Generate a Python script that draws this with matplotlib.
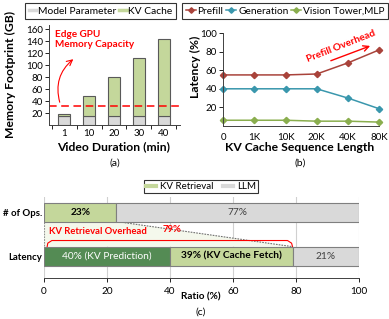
import matplotlib
matplotlib.use("Agg")
import matplotlib.pyplot as plt
from matplotlib.patches import Polygon
from matplotlib.lines import Line2D
import numpy as np

plt.rcParams["font.family"] = ["Lato", "DejaVu Sans"]

# (a) memory footprint
durations = ["1", "10", "20", "30", "40"]
model_param = [15, 15, 15, 15, 15]
kv_cache = [3, 33, 65, 97, 129]
gpu_capacity = 32

# (b) latency breakdown
seq_lens = ["0", "1K", "10K", "20K", "40K", "80K"]
prefill = [55, 55, 55, 56, 68, 82]
generation = [40, 40, 40, 40, 30, 18.5]
vision = [6, 6, 6, 5, 5, 4]

# (c) ratio
ops_kv, ops_llm = 23, 77
lat_pred, lat_fetch, lat_llm = 40, 39, 21

W, H = 389, 319
fig = plt.figure(figsize=(W / 100, H / 100), dpi=100)


def box(l, t, r, b):
    return [l / W, 1 - b / H, (r - l) / W, (b - t) / H]


def fpos(x, y):
    return x / W, 1 - y / H


GREY = "#d9d9d9"
LGREEN = "#c4d79b"
DGREEN = "#548b54"
FS = 7.0
LFS = 8.7

# ---------------- (a)
ax = fig.add_axes(box(49.3, 25, 180, 125.3))
x = np.arange(len(durations))
ax.bar(x, model_param, 0.48, color=GREY, edgecolor="#595959", lw=0.8)
ax.bar(x, kv_cache, 0.48, bottom=model_param, color=LGREEN, edgecolor="#595959", lw=0.8)
ax.axhline(gpu_capacity, color="red", ls=(0, (5, 3)), lw=1.1)
ax.set_xlim(-0.6, 4.65)
ax.set_ylim(0, 167)
ax.set_yticks(range(20, 161, 20))
ax.set_xticks(x)
ax.set_xticklabels(durations)
ax.set_xticks(np.arange(-0.5, 4.6, 1), minor=True)
ax.tick_params(axis="x", which="major", length=0, labelsize=FS, pad=3)
ax.tick_params(axis="x", which="minor", length=3, width=0.6)
ax.tick_params(axis="y", length=3, width=0.6, labelsize=FS, pad=1.5)
for s in ["top", "right"]:
    ax.spines[s].set_visible(False)
for s in ["left", "bottom"]:
    ax.spines[s].set_linewidth(0.7)
    ax.spines[s].set_color("#404040")
ax.text(-0.36, 158, "Edge GPU\nMemory Capacity", color="red", fontsize=7.2,
        fontweight="bold", va="top", ha="left", linespacing=1.1)
ax.annotate("", xy=(0.45, 113), xytext=(-0.15, 34),
            arrowprops=dict(arrowstyle="->", color="red", lw=0.8,
                            connectionstyle="arc3,rad=-0.35"))

fig.text(*fpos(114, 147), "Video Duration (min)", ha="center", va="center",
         fontsize=LFS, fontweight="bold")
fig.text(*fpos(10, 74), "Memory Footprint (GB)", ha="center", va="center",
         fontsize=LFS, fontweight="bold", rotation=90)
fig.text(*fpos(115, 163), "(a)", ha="center", va="center", fontsize=7.5)

leg_kw = dict(frameon=True, fancybox=False, edgecolor="black", borderaxespad=0,
              borderpad=0.35, handletextpad=0.15, columnspacing=0.3)
fig.legend(handles=[Line2D([], [], color=GREY, lw=2.5),
                    Line2D([], [], color=LGREEN, lw=2.5)],
           labels=["Model Parameter", "KV Cache"],
           loc="center left", bbox_to_anchor=fpos(25, 11.3), ncol=2, fontsize=7.35,
           handlelength=0.75, **leg_kw).get_frame().set_linewidth(0.8)

# ---------------- (b)
bx = fig.add_axes(box(223.3, 33.3, 379, 125.8))
xb = np.arange(len(seq_lens))
c_pre, c_gen, c_vis = "#a9433b", "#3a97ad", "#8aae4e"
for vals, c, lab in [(prefill, c_pre, "Prefill"), (generation, c_gen, "Generation"),
                     (vision, c_vis, "Vision Tower,MLP")]:
    bx.plot(xb, vals, color=c, lw=1.1, marker="D", ms=3.2, label=lab, clip_on=False)
bx.set_xlim(0, 5)
bx.set_ylim(0, 100)
bx.set_yticks(range(20, 101, 20))
bx.set_xticks(xb)
bx.set_xticklabels(seq_lens)
bx.tick_params(axis="x", length=0, labelsize=FS, pad=5)
bx.tick_params(axis="y", length=3, width=0.6, labelsize=FS, pad=1.5)
for s in ["top", "right"]:
    bx.spines[s].set_visible(False)
for s in ["left", "bottom"]:
    bx.spines[s].set_linewidth(0.7)
    bx.spines[s].set_color("#404040")
bx.text(3.78, 86.3, "Prefill Overhead", color="red", fontsize=7.2, fontweight="bold",
        rotation=21.5, ha="center", va="center")
bx.annotate("", xy=(4.8, 87.4), xytext=(3.37, 69.3),
            arrowprops=dict(arrowstyle="->", color="red", lw=1.0))

fig.text(*fpos(300, 147), "KV Cache Sequence Length", ha="center", va="center",
         fontsize=LFS, fontweight="bold")
fig.text(*fpos(195, 67), "Latency (%)", ha="center", va="center",
         fontsize=LFS, fontweight="bold", rotation=90)
fig.text(*fpos(300, 163), "(b)", ha="center", va="center", fontsize=7.5)

h = [Line2D([], [], color=c, lw=1.1, marker="D", ms=2.8) for c in (c_pre, c_gen, c_vis)]
fig.legend(handles=h, labels=["Prefill", "Generation", "Vision Tower,MLP"],
           loc="center right", bbox_to_anchor=fpos(388, 11.3), ncol=3, fontsize=7.25,
           handlelength=1.0, **leg_kw).get_frame().set_linewidth(0.8)

# ---------------- (c)
cx = fig.add_axes(box(44, 197, 359, 278.3))
bh = 0.43
cx.set_xlim(0, 100)
cx.set_ylim(-0.5, 1.34)
cx.grid(axis="x", color="#d0d0d0", lw=0.8)
cx.set_axisbelow(True)

top_lat = bh / 2
bot_ops = 1 - bh / 2
cx.add_patch(Polygon([(0, bot_ops), (ops_kv, bot_ops), (lat_pred + lat_fetch, top_lat),
                      (0, top_lat)], closed=True, facecolor="#f4f8ec", edgecolor="none",
                     zorder=1.5))
cx.plot([ops_kv, lat_pred + lat_fetch], [bot_ops, top_lat], color="#707070", lw=0.8,
        ls=(0, (1.5, 1)), zorder=2)
cx.plot([0, 0], [bot_ops, top_lat], color="#909090", lw=0.8, ls=(0, (1.5, 1)), zorder=2)

ec = "#7f7f7f"
cx.barh(1, ops_kv, bh, color=LGREEN, edgecolor=ec, lw=0.8, zorder=3)
cx.barh(1, ops_llm, bh, left=ops_kv, color=GREY, edgecolor=ec, lw=0.8, zorder=3)
cx.barh(0, lat_pred, bh, color=DGREEN, edgecolor=ec, lw=0.8, zorder=3)
cx.barh(0, lat_fetch, bh, left=lat_pred, color=LGREEN, edgecolor=ec, lw=0.8, zorder=3)
cx.barh(0, lat_llm, bh, left=lat_pred + lat_fetch, color=GREY, edgecolor=ec, lw=0.8,
        zorder=3)

tfs = 7.3
cx.text(ops_kv / 2, 1, f"{ops_kv}%", ha="center", va="center", fontsize=tfs,
        fontweight="bold", zorder=4)
cx.text(ops_kv + ops_llm / 2, 1, f"{ops_llm}%", ha="center", va="center", fontsize=tfs,
        color="#404040", zorder=4)
cx.text(lat_pred / 2, 0, f"{lat_pred}% (KV Prediction)", ha="center", va="center",
        fontsize=tfs, color="white", zorder=4)
cx.text(lat_pred + lat_fetch / 2, 0, f"{lat_fetch}% (KV Cache Fetch)", ha="center",
        va="center", fontsize=tfs, fontweight="bold", zorder=4)
cx.text(lat_pred + lat_fetch + lat_llm / 2, 0, f"{lat_llm}%", ha="center", va="center",
        fontsize=tfs, color="#404040", zorder=4)

# red bracket over retrieval latency
yb0, yb1 = top_lat, top_lat + 0.14
bx_pts = [(1.0, yb0), (1.2, yb1 - 0.06), (2.5, yb1), (77.3, yb1), (78.6, yb1 - 0.06),
          (78.9, yb0)]
cx.plot(*zip(*bx_pts), color="red", lw=0.8, zorder=2.5)
cx.text(1.6, 0.55, "KV Retrieval Overhead", color="red", fontsize=6.8, fontweight="bold",
        ha="left", va="center", zorder=4)
cx.text(40.5, 0.6, f"{lat_pred + lat_fetch}%", color="red", fontsize=6.8,
        fontweight="bold", ha="center", va="center", zorder=4)

cx.set_yticks([1, 0])
cx.set_yticklabels(["# of Ops.", "Latency"], fontweight="bold")
cx.set_xticks(range(0, 101, 20))
cx.tick_params(axis="y", length=0, labelsize=6.9, pad=1)
cx.tick_params(axis="x", length=3, width=0.6, labelsize=7.2, pad=3)
for s in ["top", "right", "left"]:
    cx.spines[s].set_visible(False)
cx.spines["bottom"].set_linewidth(0.7)
cx.spines["bottom"].set_color("#404040")

fig.text(*fpos(201, 297), "Ratio (%)", ha="center", va="center", fontsize=7.2,
         fontweight="bold")
fig.text(*fpos(201, 312), "(c)", ha="center", va="center", fontsize=7.5)

fig.legend(handles=[Line2D([], [], color=LGREEN, lw=3),
                    Line2D([], [], color=GREY, lw=3)],
           labels=["KV Retrieval", "LLM"],
           loc="center", bbox_to_anchor=fpos(201, 186.5), ncol=2, fontsize=7.0,
           frameon=True, fancybox=False, edgecolor="black", handlelength=1.0,
           handletextpad=0.4, columnspacing=1.0,
           borderpad=0.25, borderaxespad=0).get_frame().set_linewidth(0.8)

fig.savefig("out.png", dpi=100)
